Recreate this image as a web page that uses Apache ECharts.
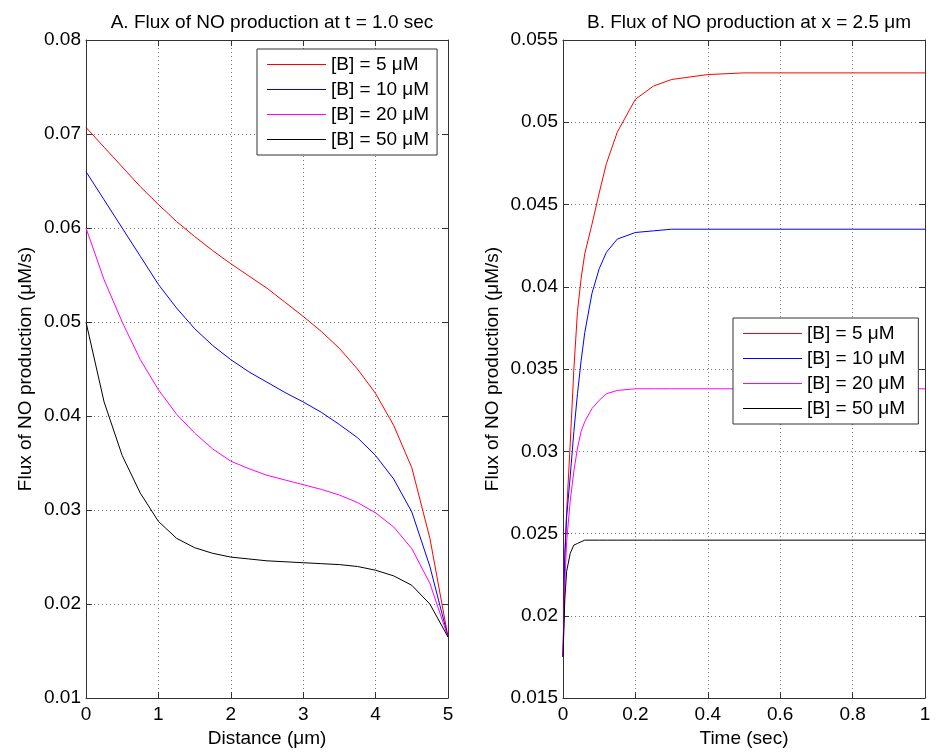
<!DOCTYPE html>
<html>
<head>
<meta charset="utf-8">
<script src="https://cdn.jsdelivr.net/npm/echarts@6/dist/echarts.min.js"></script>
<style>html,body{margin:0;padding:0;background:#fff}#c{width:936px;height:753px}</style>
</head>
<body>
<div id="c"></div>
<script>
// Panel A: flux vs distance at t = 1.0 sec
var distance = [0,0.25,0.5,0.75,1,1.25,1.5,1.75,2,2.25,2.5,2.75,3,3.25,3.5,3.75,4,4.25,4.5,4.75,5];
var distB5  = [0.0707,0.0686,0.0665,0.0644,0.0625,0.0607,0.0591,0.0576,0.0562,0.0549,0.0536,0.0521,0.0506,0.0490,0.0472,0.0450,0.0424,0.0390,0.0345,0.0270,0.0165];
var distB10 = [0.0660,0.0630,0.0600,0.0570,0.0540,0.0515,0.0493,0.0475,0.0460,0.0447,0.0436,0.0425,0.0415,0.0404,0.0391,0.0377,0.0358,0.0333,0.0298,0.0240,0.0165];
var distB20 = [0.0600,0.0545,0.0500,0.0460,0.0428,0.0402,0.0382,0.0365,0.0352,0.0344,0.0337,0.0332,0.0327,0.0322,0.0316,0.0308,0.0297,0.0282,0.0259,0.0222,0.0165];
var distB50 = [0.0500,0.0415,0.0358,0.0318,0.0288,0.0270,0.0260,0.0254,0.0250,0.0248,0.0246,0.0245,0.0244,0.0243,0.0242,0.0240,0.0236,0.0230,0.0220,0.0200,0.0165];

// Panel B: flux vs time at x = 2.5 um
var time = [0,0.005,0.01,0.02,0.03,0.04,0.05,0.06,0.08,0.1,0.12,0.15,0.2,0.25,0.3,0.4,0.5,0.6,0.8,1.0];
var timeB5  = [0.0175,0.0238,0.0263,0.0305,0.0350,0.0385,0.0405,0.0420,0.0438,0.0457,0.0475,0.0494,0.0514,0.0522,0.0526,0.0529,0.0530,0.0530,0.0530,0.0530];
var timeB10 = [0.0175,0.0235,0.0260,0.0285,0.0312,0.0335,0.0355,0.0372,0.0396,0.0411,0.0421,0.0429,0.0433,0.0434,0.0435,0.0435,0.0435,0.0435,0.0435,0.0435];
var timeB20 = [0.0175,0.0220,0.0245,0.0270,0.0288,0.0302,0.0312,0.0318,0.0326,0.0331,0.0335,0.0337,0.0338,0.0338,0.0338,0.0338,0.0338,0.0338,0.0338,0.0338];
var timeB50 = [0.0175,0.0210,0.0227,0.0238,0.0243,0.0244,0.0245,0.0246,0.0246,0.0246,0.0246,0.0246,0.0246,0.0246,0.0246,0.0246,0.0246,0.0246,0.0246,0.0246];

var names = ['[B] = 5 \u03bcM','[B] = 10 \u03bcM','[B] = 20 \u03bcM','[B] = 50 \u03bcM'];
var colors = ['#ff0000','#0000ff','#ff00ff','#000000'];

var titles = ['A. Flux of NO production at t = 1.0 sec','B. Flux of NO production at x = 2.5 \u03bcm'];
var xNames = ['Distance (\u03bcm)','Time (sec)'];
var yName = 'Flux of NO production (\u03bcM/s)';

var FONT = 'Liberation Sans, Arial, sans-serif';
var AX = '#333333';

// panel B series get a trailing space so each legend refers only to its own panel's series
var namesA = names.slice();
var namesB = names.map(function(n){ return n + ' '; });

function pairs(xs, ys){ return xs.map(function(x,i){ return [x, ys[i]]; }); }
function fmt(v){ return String(parseFloat(v.toFixed(4))); }

function xAx(grid, min, max, interval, name, top){
  return {
    type:'value', gridIndex:grid, min:min, max:max, interval:interval,
    position: top ? 'top' : 'bottom',
    name: top ? '' : name, nameLocation:'middle', nameGap:30,
    nameTextStyle:{fontFamily:FONT, fontSize:19, color:'#000'},
    axisLine:{show:true, onZero:false, lineStyle:{color:AX, width:1}},
    axisTick:{show:true, inside:true, length:6, lineStyle:{color:AX}},
    axisLabel:{show:!top, fontFamily:FONT, fontSize:19, color:'#000', margin:7, formatter:fmt},
    splitLine:{show:!top, lineStyle:{color:'#777', type:[1,3], width:1}}
  };
}
function yAx(grid, min, max, interval, gap, right){
  return {
    type:'value', gridIndex:grid, min:min, max:max, interval:interval,
    position: right ? 'right' : 'left',
    name: right ? '' : yName, nameLocation:'middle', nameGap:gap,
    nameTextStyle:{fontFamily:FONT, fontSize:19, color:'#000'},
    axisLine:{show:true, onZero:false, lineStyle:{color:AX, width:1}},
    axisTick:{show:true, inside:true, length:6, lineStyle:{color:AX}},
    axisLabel:{show:!right, fontFamily:FONT, fontSize:19, color:'#000', margin:5, formatter:fmt},
    splitLine:{show:!right, lineStyle:{color:'#777', type:[1,3], width:1}}
  };
}

var distSets = [distB5, distB10, distB20, distB50];
var timeSets = [timeB5, timeB10, timeB20, timeB50];
var series = [];
distSets.forEach(function(d,i){
  series.push({name:namesA[i], type:'line', xAxisIndex:0, yAxisIndex:0, data:pairs(distance,d), color:colors[i],
    symbol:'none', showSymbol:false, lineStyle:{color:colors[i], width:1}, itemStyle:{color:colors[i]}, z:3});
});
timeSets.forEach(function(d,i){
  series.push({name:namesB[i], type:'line', xAxisIndex:2, yAxisIndex:2, data:pairs(time,d), color:colors[i],
    symbol:'none', showSymbol:false, lineStyle:{color:colors[i], width:1}, itemStyle:{color:colors[i]}, z:3});
});

function legend(list, left, top){
  return {
    data:list.map(function(n,i){
      return {name:n, icon:'rect', itemStyle:{color:colors[i], opacity:1, borderWidth:0}};
    }),
    orient:'vertical', left:left, top:top,
    icon:'rect',
    itemWidth:59, itemHeight:1, itemGap:6,
    padding:[6,8,6,10], borderColor:AX, borderWidth:1, backgroundColor:'#fff',
    textStyle:{fontFamily:FONT, fontSize:19, color:'#000'},
    selectedMode:false, z:10
  };
}

var chart = echarts.init(document.getElementById('c'), null, {renderer:'canvas'});
chart.setOption({
  animation:false,
  backgroundColor:'#fff',
  color:colors.concat(colors),
  title:[
    {text:titles[0], left:267, top:8, textAlign:'center', textStyle:{fontFamily:FONT, fontSize:19, fontWeight:'normal', color:'#000'}},
    {text:titles[1], left:744, top:8, textAlign:'center', textStyle:{fontFamily:FONT, fontSize:19, fontWeight:'normal', color:'#000'}}
  ],
  grid:[
    {left:86, top:40, width:362, height:660},
    {left:563, top:40, width:362, height:660}
  ],
  xAxis:[
    xAx(0,0,5,1,xNames[0],false),
    xAx(0,0,5,1,'',true),
    xAx(1,0,1,0.2,xNames[1],false),
    xAx(1,0,1,0.2,'',true)
  ],
  yAxis:[
    yAx(0,0.01,0.08,0.01,51,false),
    yAx(0,0.01,0.08,0.01,0,true),
    yAx(1,0.015,0.055,0.005,61,false),
    yAx(1,0.015,0.055,0.005,0,true)
  ],
  legend:[legend(namesA,257,49), legend(namesB,733,318)],
  series:series
});
</script>
</body>
</html>
